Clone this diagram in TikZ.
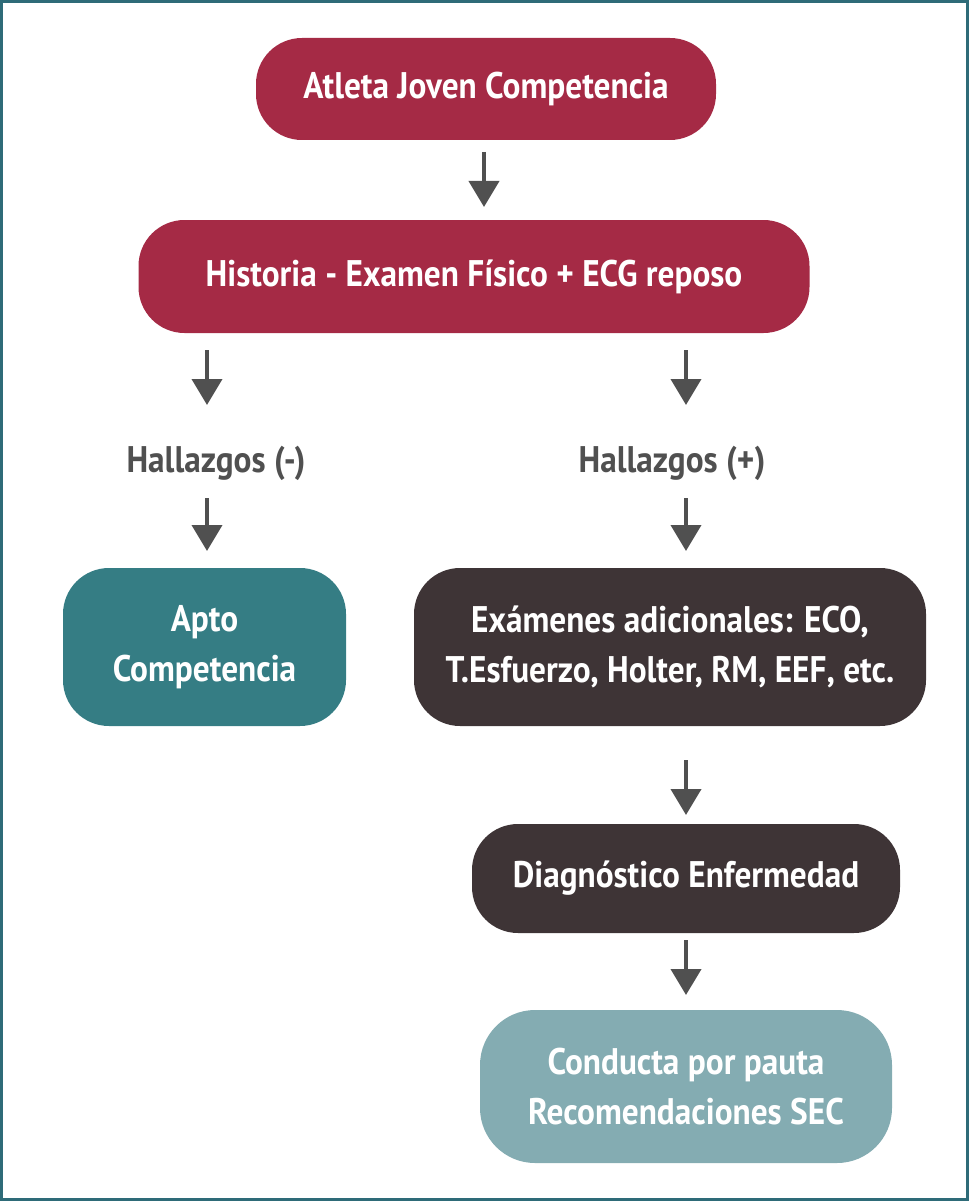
\documentclass[tikz,border=0pt]{standalone}
\usepackage{fontspec}
\setmainfont{PT Sans}[FakeStretch=0.9]
\usepackage{tikz}
\usetikzlibrary{positioning, arrows.meta}
\definecolor{atletared}{HTML}{A52A45}
\definecolor{aptoteal}{HTML}{357D84}
\definecolor{examdark}{HTML}{3E3436}
\definecolor{condlight}{HTML}{84ACB2}
\definecolor{arrowgray}{HTML}{505050}
\definecolor{framecol}{HTML}{2E6B78}
\newcommand{\boxfont}{\fontsize{37}{50}\selectfont\bfseries}
\tikzset{
	box/.style={
		rounded corners=46pt,
		text=white,
		align=center,
		font=\boxfont,
		inner sep=0pt,
		outer sep=0pt,
	},
	hallazgo/.style={
		text=arrowgray,
		font=\boxfont,
		minimum height=70pt,
		inner sep=0pt,
		outer sep=0pt,
	},
	arr/.style={
		draw=arrowgray,
		line width=4pt,
		-{Triangle[width=30pt,length=26pt]},
		shorten <=12pt,
		shorten >=13pt,
	},
}

\begin{document}
\begin{tikzpicture}[x=1pt, y=1pt]

\useasboundingbox (0,0) rectangle (969,-1201);
\draw[framecol, line width=3pt] (1.5,-1.5) rectangle (967.5,-1199.5);

\node(atleta)[box, fill=atletared, minimum width=460pt, minimum height=102pt] at (486,-89) {Atleta Joven Competencia};
\node(hist)[box, fill=atletared, minimum width=671pt, minimum height=113pt, below=80pt of atleta, xshift=-12pt] {Historia - Examen Físico + ECG reposo};

\node(hneg)[hallazgo] at (216,-463) {Hallazgos (-)};
\node(hpos)[hallazgo] at (672,-463) {Hallazgos (+)};

\node(apto)[box, fill=aptoteal, minimum width=283pt, minimum height=158pt] at (204.5,-647) {Apto\\Competencia};
\node(exam)[box, fill=examdark, minimum width=512pt, minimum height=158pt] at (670,-647) {Exámenes adicionales: ECO,\\T.Esfuerzo, Holter, RM, EEF, etc.};
\node(diag)[box, fill=examdark, minimum width=428pt, minimum height=109pt, below=98pt of exam, xshift=16pt] {Diagnóstico Enfermedad};
\node(cond)[box, fill=condlight, rounded corners=55pt, minimum width=412pt, minimum height=153pt, below=77pt of diag] {Conducta por pauta\\Recomendaciones SEC};

% arrow columns
\coordinate(lcol) at (207,0);
\coordinate(rcol) at (686,0);

\draw[arr] ([xshift=-2pt]atleta.south) -- ([xshift=-2pt]atleta.south |- hist.north);
\draw[arr, shorten <=17pt, shorten >=23pt] (hist.south -| lcol) -- (hneg.north -| lcol);
\draw[arr, shorten <=17pt, shorten >=23pt] (hist.south -| rcol) -- (hpos.north -| rcol);
\draw[arr, shorten <=0pt, shorten >=17pt] (hneg.south -| lcol) -- (apto.north -| lcol);
\draw[arr, shorten <=0pt, shorten >=17pt] (hpos.south -| rcol) -- (exam.north -| rcol);
\draw[arr, shorten <=34pt, shorten >=9pt] (exam.south -| rcol) -- (diag.north -| rcol);
\draw[arr, shorten <=7pt, shorten >=15pt] (diag.south -| rcol) -- (cond.north -| rcol);

\end{tikzpicture}
\end{document}
